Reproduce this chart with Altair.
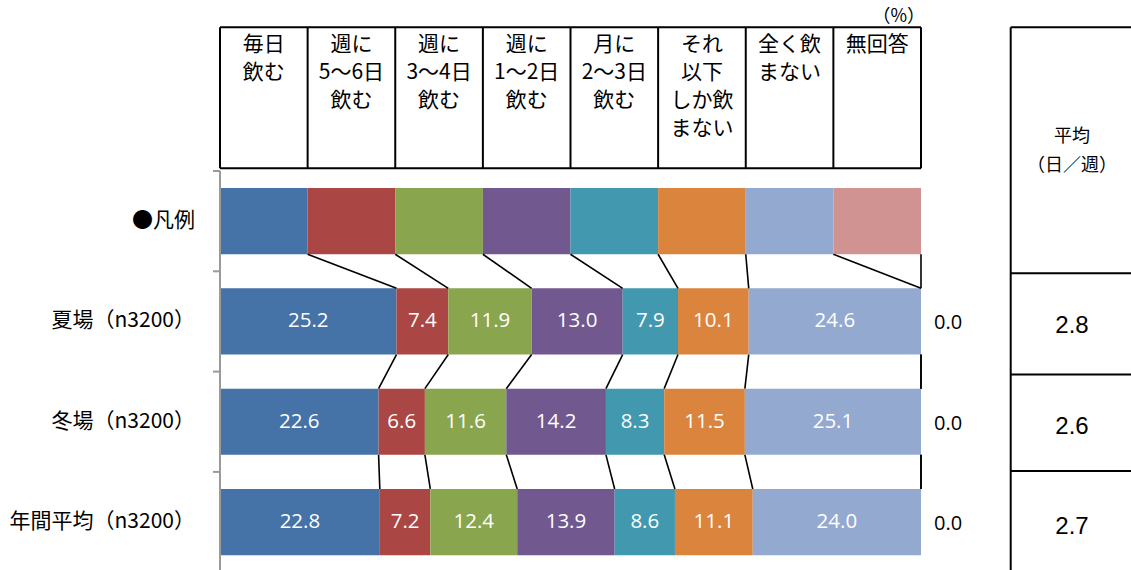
import altair as alt
import pandas as pd

# ---------------- data ----------------
CATEGORIES = ["毎日飲む", "週に5～6日飲む", "週に3～4日飲む", "週に1～2日飲む",
              "月に2～3日飲む", "それ以下しか飲まない", "全く飲まない", "無回答"]
HEADER_LABELS = ["毎日\n飲む", "週に\n5～6日\n飲む", "週に\n3～4日\n飲む", "週に\n1～2日\n飲む",
                 "月に\n2～3日\n飲む", "それ\n以下\nしか飲\nまない", "全く飲\nまない", "無回答"]
COLORS = ["#4572A7", "#AA4643", "#89A54E", "#71588F", "#4198AF", "#DB843D", "#93A9CF", "#D19392"]
ROW_LABELS = ["●凡例", "夏場（n3200）", "冬場（n3200）", "年間平均（n3200）"]
LEGEND_SHARES = [12.5, 12.5, 12.5, 12.5, 12.5, 12.5, 12.5, 12.5]
SUMMER = [25.2, 7.4, 11.9, 13.0, 7.9, 10.1, 24.6, 0.0]
WINTER = [22.6, 6.6, 11.6, 14.2, 8.3, 11.5, 25.1, 0.0]
ANNUAL = [22.8, 7.2, 12.4, 13.9, 8.6, 11.1, 24.0, 0.0]
AVERAGE_DAYS = [2.8, 2.6, 2.7]
AVG_HEADER = ["平均", "（日／週）"]
UNIT_LABEL = "（%）"

# ---------------- layout ----------------
W, H = 701, 399
LEFT, TOP = 220, 171
ROW_PX = 100.3
BAR_HALF = 0.33
Y_MAX = -0.5 + H / ROW_PX
JP = "Noto Sans CJK JP"


def xu(px):
    return (px - LEFT) / W * 100


def yu(px):
    return -0.5 + (px - TOP) / ROW_PX


xs = alt.Scale(domain=[0, 100], nice=False, zero=False)
ys = alt.Scale(domain=[-0.5, Y_MAX], nice=False, zero=False, reverse=True)

# segments
rows_values = [LEGEND_SHARES, SUMMER, WINTER, ANNUAL]
seg = []
bounds = []
for r, vals in enumerate(rows_values):
    total = sum(vals)
    cum = 0.0
    b = []
    for k, v in enumerate(vals):
        x0 = cum / total * 100
        cum += v
        x1 = cum / total * 100
        b.append(x1)
        seg.append(dict(row=r, cat=CATEGORIES[k], x0=x0, x1=x1, xm=(x0 + x1) / 2,
                        y0=r - BAR_HALF, y1=r + BAR_HALF,
                        label=(f"{v:.1f}" if (r > 0 and v > 0) else "")))
    bounds.append(b)
seg_df = pd.DataFrame(seg)

# connectors
con = []
for r in range(len(rows_values) - 1):
    for k in range(len(CATEGORIES)):
        con.append(dict(xa=bounds[r][k], xb=bounds[r + 1][k],
                        ya=r + BAR_HALF, yb=r + 1 - BAR_HALF))
con_df = pd.DataFrame(con)

# zero ("無回答") labels outside
zero_df = pd.DataFrame([dict(row=r, x=100, label=f"{vals[-1]:.1f}")
                        for r, vals in enumerate(rows_values) if r > 0])

# header table
legend_edges = [0.0] + bounds[0]
h_top, h_bot = yu(27.3), yu(168.3)
hv_df = pd.DataFrame([dict(x=e, y=h_top, y2=h_bot) for e in legend_edges])
hh_df = pd.DataFrame([dict(x=0, x2=100, y=yy) for yy in (h_top, h_bot)])
htxt = []
for k, lab in enumerate(HEADER_LABELS):
    xc = (legend_edges[k] + legend_edges[k + 1]) / 2
    for i, line in enumerate(lab.split("\n")):
        htxt.append(dict(x=xc, y=yu(45 + 28 * i), t=line))
htxt_df = pd.DataFrame(htxt)

# category labels
cat_df = pd.DataFrame([dict(row=r, t=t) for r, t in enumerate(ROW_LABELS)])

# right table
rt_left, rt_right = xu(1010.7), xu(1131)
rt_h_df = pd.DataFrame([dict(x=rt_left, x2=rt_right, y=yu(p)) for p in (27.3, 273.3, 374.5, 471)])
rt_v_df = pd.DataFrame([dict(x=rt_left, y=yu(27.3), y2=Y_MAX)])
avg_df = pd.DataFrame([dict(row=i + 1, t=f"{v:.1f}") for i, v in enumerate(AVERAGE_DAYS)])
avg_head_df = pd.DataFrame([dict(y=yu(137), t=AVG_HEADER[0]), dict(y=yu(166), t=AVG_HEADER[1])])

# axis
axis_df = pd.DataFrame([dict(x=0, y=-0.5, y2=Y_MAX)])
tick_df = pd.DataFrame([dict(x=xu(213), x2=0, y=v) for v in (-0.5, 0.5, 1.5, 2.5)])

# ---------------- layers ----------------
bars = alt.Chart(seg_df).mark_rect().encode(
    x=alt.X("x0:Q", scale=xs, axis=None), x2="x1:Q",
    y=alt.Y("y0:Q", scale=ys, axis=None), y2="y1:Q",
    color=alt.Color("cat:N", scale=alt.Scale(domain=CATEGORIES, range=COLORS), legend=None),
)
bar_text = alt.Chart(seg_df).mark_text(font="Open Sans", fontSize=20.5, color="white", baseline="middle").encode(
    x=alt.X("xm:Q", scale=xs, axis=None), y=alt.Y("row:Q", scale=ys, axis=None), text="label:N")
connectors = alt.Chart(con_df).mark_rule(color="black", strokeWidth=1.6).encode(
    x=alt.X("xa:Q", scale=xs, axis=None), x2="xb:Q",
    y=alt.Y("ya:Q", scale=ys, axis=None), y2="yb:Q")
zero_text = alt.Chart(zero_df).mark_text(font="Open Sans", fontSize=20, color="black", align="left",
                                         baseline="middle", dx=13, dy=2).encode(
    x=alt.X("x:Q", scale=xs, axis=None), y=alt.Y("row:Q", scale=ys, axis=None), text="label:N")

axis_line = alt.Chart(axis_df).mark_rule(color="#9a9a9a", strokeWidth=2).encode(
    x=alt.X("x:Q", scale=xs, axis=None), y=alt.Y("y:Q", scale=ys, axis=None), y2="y2:Q")
axis_ticks = alt.Chart(tick_df).mark_rule(color="#9a9a9a", strokeWidth=2).encode(
    x=alt.X("x:Q", scale=xs, axis=None), x2="x2:Q", y=alt.Y("y:Q", scale=ys, axis=None))

hv = alt.Chart(hv_df).mark_rule(color="black", strokeWidth=2).encode(
    x=alt.X("x:Q", scale=xs, axis=None), y=alt.Y("y:Q", scale=ys, axis=None), y2="y2:Q")
hh = alt.Chart(hh_df).mark_rule(color="black", strokeWidth=2).encode(
    x=alt.X("x:Q", scale=xs, axis=None), x2="x2:Q", y=alt.Y("y:Q", scale=ys, axis=None))
htext = alt.Chart(htxt_df).mark_text(font=JP, fontSize=21, color="black", baseline="middle").encode(
    x=alt.X("x:Q", scale=xs, axis=None), y=alt.Y("y:Q", scale=ys, axis=None), text="t:N")
unit = alt.Chart(pd.DataFrame([dict(x=xu(925), y=yu(17), t=UNIT_LABEL)])).mark_text(
    font=JP, fontSize=18, color="black", align="right", baseline="middle").encode(
    x=alt.X("x:Q", scale=xs, axis=None), y=alt.Y("y:Q", scale=ys, axis=None), text="t:N")

cats = alt.Chart(cat_df).mark_text(font=JP, fontSize=21, color="black", align="right", baseline="middle").encode(
    x=alt.value(-25), y=alt.Y("row:Q", scale=ys, axis=None), text="t:N")

rth = alt.Chart(rt_h_df).mark_rule(color="black", strokeWidth=2).encode(
    x=alt.X("x:Q", scale=xs, axis=None), x2="x2:Q", y=alt.Y("y:Q", scale=ys, axis=None))
rtv = alt.Chart(rt_v_df).mark_rule(color="black", strokeWidth=2).encode(
    x=alt.X("x:Q", scale=xs, axis=None), y=alt.Y("y:Q", scale=ys, axis=None), y2="y2:Q")
avg_head = alt.Chart(avg_head_df).mark_text(font=JP, fontSize=18, color="black", baseline="middle").encode(
    x=alt.value(1072 - LEFT), y=alt.Y("y:Q", scale=ys, axis=None), text="t:N")
avg_text = alt.Chart(avg_df).mark_text(font="Liberation Sans", fontSize=24, color="black",
                                       baseline="middle", dy=5).encode(
    x=alt.value(1072 - LEFT), y=alt.Y("row:Q", scale=ys, axis=None), text="t:N")

chart = alt.layer(
    bars, connectors, bar_text, zero_text, axis_line, axis_ticks,
    hv, hh, htext, unit, cats, rth, rtv, avg_head, avg_text
).properties(
    width=W, height=H,
    padding={"left": LEFT, "top": TOP, "right": 1131 - LEFT - W, "bottom": 0},
    autosize=alt.AutoSizeParams(type="none"),
    background="white",
).configure_view(stroke=None)

chart.save("out.html", embed_options={"renderer": "svg", "actions": False})
